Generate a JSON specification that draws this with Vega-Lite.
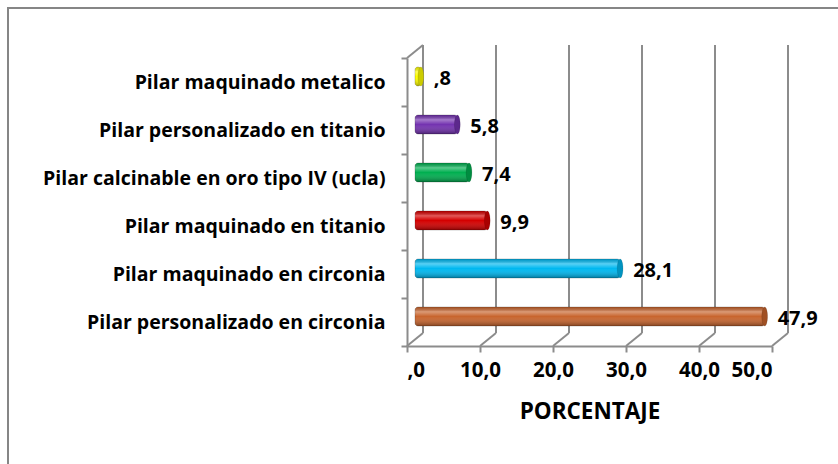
{
  "$schema": "https://vega.github.io/schema/vega-lite/v6.json",
  "autosize": "none",
  "padding": {"left": 8, "top": 8, "right": 0, "bottom": 0},
  "width": 840,
  "height": 470,
  "config": {
    "view": {"stroke": "#868686", "strokeWidth": 2},
    "font": "Open Sans"
  },
  "datasets": {
    "bars": [
      {"cat": "Pilar maquinado metalico", "pct": 0.8, "label": ",8"},
      {"cat": "Pilar personalizado en titanio", "pct": 5.8, "label": "5,8"},
      {"cat": "Pilar calcinable en oro tipo IV (ucla)", "pct": 7.4, "label": "7,4"},
      {"cat": "Pilar maquinado en titanio", "pct": 9.9, "label": "9,9"},
      {"cat": "Pilar maquinado en circonia", "pct": 28.1, "label": "28,1"},
      {"cat": "Pilar personalizado en circonia", "pct": 47.9, "label": "47,9"}
    ],
    "ticks": [{"t": 0}, {"t": 10}, {"t": 20}, {"t": 30}, {"t": 40}, {"t": 50}]
  },
  "layer": [
    {
      "data": {"name": "ticks"},
      "mark": {"type": "rule", "color": "#8C8C8C", "strokeWidth": 2, "xOffset": 16, "yOffset": -13, "y2Offset": -13},
      "encoding": {
        "x": {"field": "t", "type": "quantitative", "scale": {"domain": [0, 50], "range": [399, 764], "nice": false, "zero": true}},
        "y": {"datum": "Pilar maquinado metalico", "bandPosition": 0, "scale": {"type": "band", "domain": ["Pilar maquinado metalico", "Pilar personalizado en titanio", "Pilar calcinable en oro tipo IV (ucla)", "Pilar maquinado en titanio", "Pilar maquinado en circonia", "Pilar personalizado en circonia"], "range": [50, 338], "paddingInner": 0, "paddingOuter": 0}},
        "y2": {"datum": "Pilar personalizado en circonia", "bandPosition": 1}
      }
    },
    {
      "data": {"name": "ticks"},
      "mark": {"type": "rule", "color": "#8C8C8C", "strokeWidth": 2, "x2Offset": 16, "y2Offset": -13},
      "encoding": {
        "x": {"field": "t", "type": "quantitative"},
        "x2": {"field": "t"},
        "y": {"datum": "Pilar personalizado en circonia", "bandPosition": 1},
        "y2": {"datum": "Pilar personalizado en circonia", "bandPosition": 1}
      }
    },
    {
      "data": {"values": [{"t": 0}]},
      "mark": {"type": "rule", "color": "#8C8C8C", "strokeWidth": 2, "x2Offset": 16, "y2Offset": -13},
      "encoding": {
        "x": {"field": "t", "type": "quantitative"},
        "x2": {"field": "t"},
        "y": {"datum": "Pilar maquinado metalico", "bandPosition": 0},
        "y2": {"datum": "Pilar maquinado metalico", "bandPosition": 0}
      }
    },
    {
      "data": {"name": "bars"},
      "layer": [
        {
          "mark": {"type": "bar", "height": 19, "xOffset": 8, "x2Offset": 8, "yOffset": -5.5, "cornerRadius": 3, "stroke": "#000000", "strokeOpacity": 0.25, "strokeWidth": 0.8},
          "encoding": {
            "y": {"field": "cat", "type": "nominal",
              "axis": {"orient": "left", "offset": -399, "title": null, "domainColor": "#8C8C8C", "domainWidth": 2, "tickColor": "#8C8C8C", "tickWidth": 2, "tickSize": 6, "tickBand": "extent", "labelFont": "Open Sans", "labelFontSize": 19.5, "labelFontWeight": "bold", "labelColor": "#000000", "labelPadding": 16, "labelLimit": 400, "grid": false}},
            "x": {"field": "pct", "type": "quantitative",
              "axis": {"orient": "bottom", "offset": -132, "values": [0, 10, 20, 30, 40, 50], "labelExpr": "datum.value == 0 ? ',0' : replace(format(datum.value, '.1f'), '.', ',')", "domainColor": "#8C8C8C", "domainWidth": 2, "tickColor": "#8C8C8C", "tickWidth": 2, "tickSize": 6, "labelFont": "Open Sans", "labelFontSize": 20.5, "labelFontWeight": "bold", "labelColor": "#000000", "labelPadding": 8, "grid": false, "title": "PORCENTAJE", "titleFont": "Open Sans", "titleFontSize": 22.5, "titleFontWeight": "bold", "titleColor": "#000000", "titlePadding": 20}},
            "x2": {"datum": 0},
            "color": {"field": "cat", "type": "nominal", "legend": null,
              "scale": {"domain": ["Pilar maquinado metalico", "Pilar personalizado en titanio", "Pilar calcinable en oro tipo IV (ucla)", "Pilar maquinado en titanio", "Pilar maquinado en circonia", "Pilar personalizado en circonia"],
                "range": ["#FFFF00", "#7433B0", "#00AF50", "#D40000", "#00B8F0", "#C8652E"]}}
          }
        },
        {
          "mark": {"type": "bar", "height": 19, "xOffset": 8, "x2Offset": 8, "yOffset": -5.5, "cornerRadius": 3,
            "fill": {"gradient": "linear", "x1": 0, "y1": 0, "x2": 0, "y2": 1,
              "stops": [
                {"offset": 0, "color": "rgba(0,0,0,0.15)"},
                {"offset": 0.25, "color": "rgba(255,255,255,0.35)"},
                {"offset": 0.5, "color": "rgba(255,255,255,0.0)"},
                {"offset": 1, "color": "rgba(0,0,0,0.35)"}
              ]}},
          "encoding": {
            "y": {"field": "cat", "type": "nominal"},
            "x": {"field": "pct", "type": "quantitative"},
            "x2": {"datum": 0}
          }
        },
        {
          "mark": {"type": "point", "filled": true, "opacity": 1, "size": 361, "xOffset": 8, "yOffset": -5.5,
            "shape": "M0,-1A0.3,1,0,1,1,0,1A0.3,1,0,1,1,0,-1Z", "stroke": "#000000", "strokeOpacity": 0.2, "strokeWidth": 0.6},
          "encoding": {
            "y": {"field": "cat", "type": "nominal"},
            "x": {"field": "pct", "type": "quantitative"},
            "color": {"field": "cat", "type": "nominal"}
          }
        },
        {
          "mark": {"type": "point", "filled": true, "color": "#000000", "opacity": 0.2, "size": 361, "xOffset": 8, "yOffset": -5.5,
            "shape": "M0,-1A0.3,1,0,1,1,0,1A0.3,1,0,1,1,0,-1Z"},
          "encoding": {
            "y": {"field": "cat", "type": "nominal"},
            "x": {"field": "pct", "type": "quantitative"}
          }
        },
        {
          "mark": {"type": "text", "align": "left", "baseline": "middle", "dx": 21, "yOffset": -3, "font": "Open Sans", "fontSize": 20, "fontWeight": "bold", "color": "#000000"},
          "encoding": {
            "y": {"field": "cat", "type": "nominal"},
            "x": {"field": "pct", "type": "quantitative"},
            "text": {"field": "label"}
          }
        }
      ]
    }
  ]
}
